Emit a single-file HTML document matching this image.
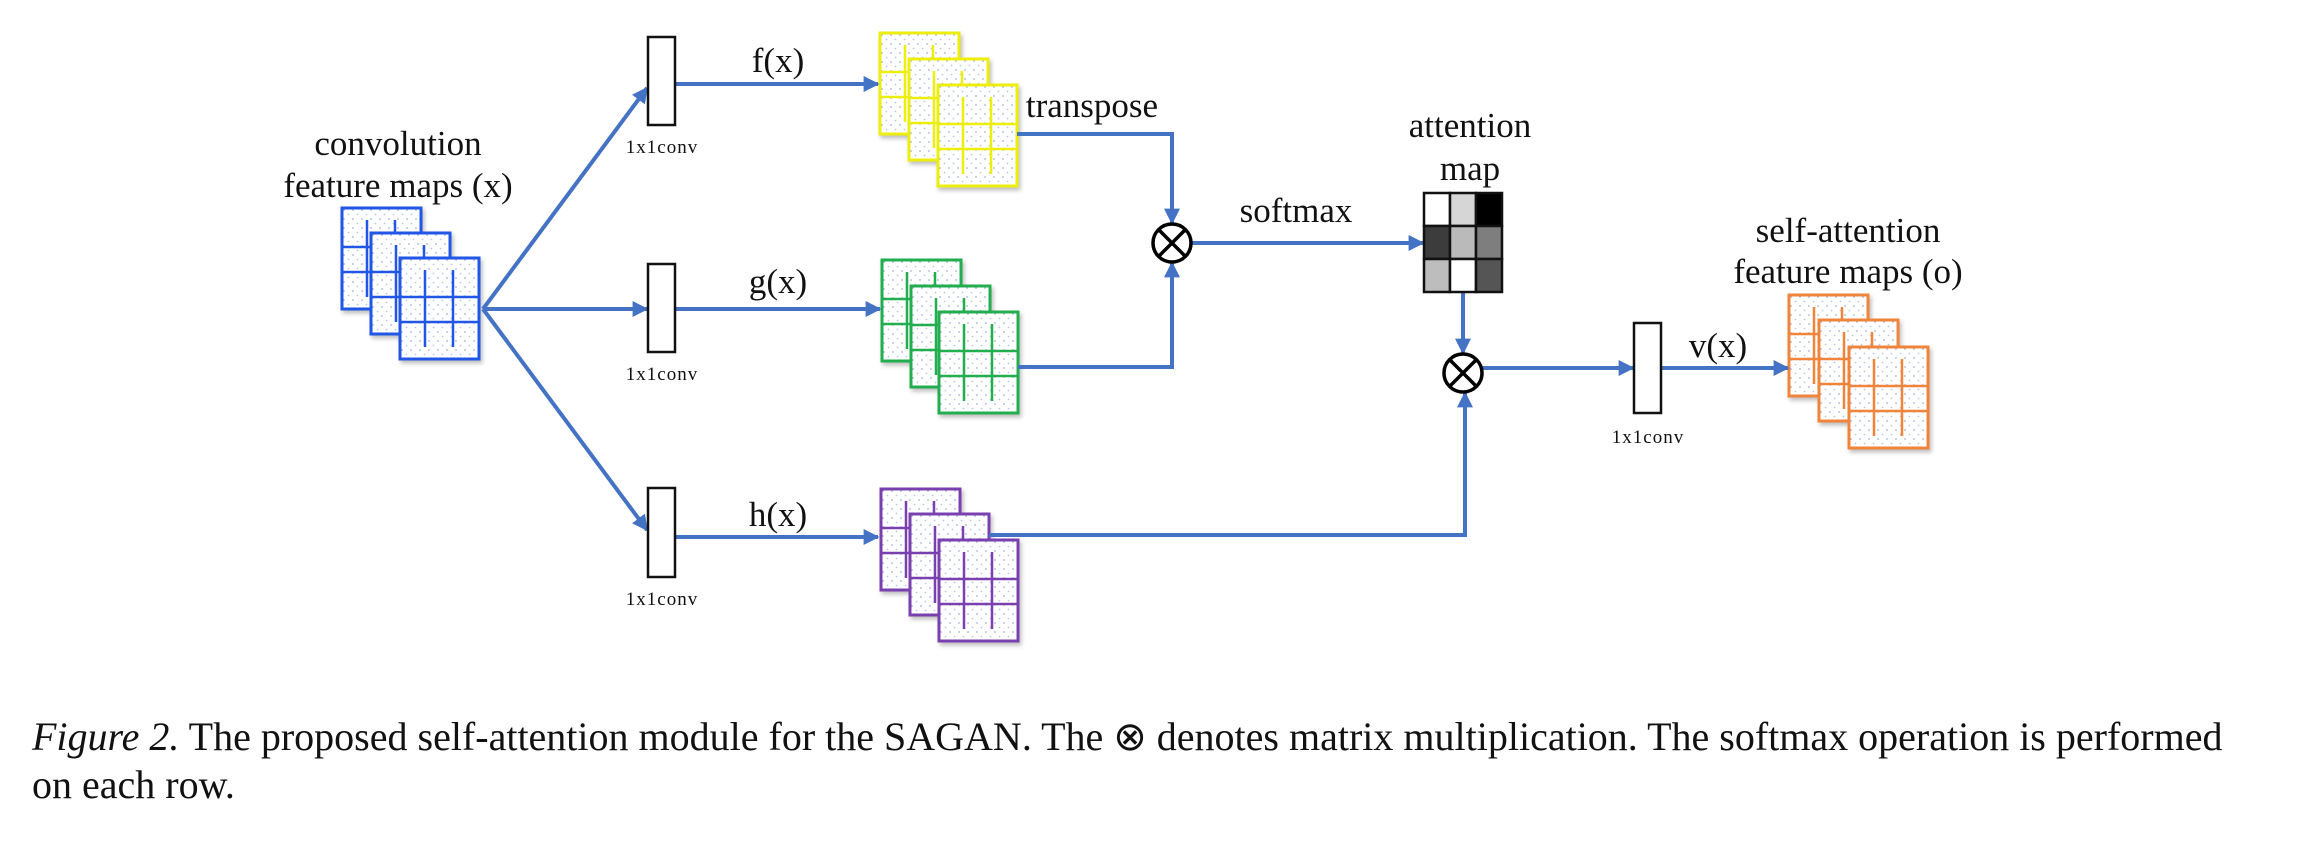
<!DOCTYPE html>
<html><head><meta charset="utf-8">
<style>
html,body{margin:0;padding:0;background:#fff;}
svg{display:block;}
text{font-family:"Liberation Serif",serif;fill:#111;}
</style></head>
<body>
<svg width="2322" height="868" viewBox="0 0 2322 868" xmlns="http://www.w3.org/2000/svg">
<defs>
<pattern id="dots" width="9" height="9" patternUnits="userSpaceOnUse">
<rect width="9" height="9" fill="#fff"/>
<circle cx="2" cy="2" r="0.9" fill="#9fb4e0"/>
<circle cx="6.5" cy="6.5" r="0.9" fill="#b8c8ea"/>
</pattern>
<marker id="ah" viewBox="0 0 10 10" refX="9" refY="5" markerWidth="4" markerHeight="4" orient="auto" markerUnits="strokeWidth">
<path d="M0,0 L10,5 L0,10 z" fill="#4472C4"/>
</marker>
<filter id="sh" x="-20%" y="-20%" width="150%" height="150%">
<feDropShadow dx="2" dy="3" stdDeviation="2" flood-color="#000" flood-opacity="0.25"/>
</filter>
<g id="sq">
<rect x="0" y="0" width="79" height="101" fill="url(#dots)" stroke="currentColor" stroke-width="3"/>
<line x1="0" y1="39" x2="79" y2="39" stroke="currentColor" stroke-width="2.5"/>
<line x1="0" y1="64" x2="79" y2="64" stroke="currentColor" stroke-width="2.5"/>
<line x1="25" y1="12" x2="25" y2="89" stroke="currentColor" stroke-width="2.5"/>
<line x1="53" y1="12" x2="53" y2="89" stroke="currentColor" stroke-width="2.5"/>
</g>
</defs>

<!-- stacks -->
<g style="color:#2456e6" filter="url(#sh)">
<use href="#sq" x="342" y="208"/><use href="#sq" x="371" y="233"/><use href="#sq" x="400" y="258"/>
</g>
<g style="color:#eeee10" filter="url(#sh)">
<use href="#sq" x="880" y="33"/><use href="#sq" x="909" y="59"/><use href="#sq" x="938" y="85"/>
</g>
<g style="color:#22ad50" filter="url(#sh)">
<use href="#sq" x="882" y="260"/><use href="#sq" x="911" y="286"/><use href="#sq" x="939" y="312"/>
</g>
<g style="color:#7a40b0" filter="url(#sh)">
<use href="#sq" x="881" y="489"/><use href="#sq" x="910" y="514"/><use href="#sq" x="939" y="540"/>
</g>
<g style="color:#f0843a" filter="url(#sh)">
<use href="#sq" x="1789" y="295"/><use href="#sq" x="1819" y="320"/><use href="#sq" x="1849" y="347"/>
</g>

<!-- connectors -->
<g stroke="#4472C4" stroke-width="4" fill="none">
<line x1="483" y1="309" x2="647" y2="88" marker-end="url(#ah)"/>
<line x1="483" y1="309" x2="647" y2="309" marker-end="url(#ah)"/>
<line x1="483" y1="309" x2="647" y2="530" marker-end="url(#ah)"/>
<line x1="675" y1="84" x2="878" y2="84" marker-end="url(#ah)"/>
<line x1="675" y1="309" x2="880" y2="309" marker-end="url(#ah)"/>
<line x1="675" y1="537" x2="878" y2="537" marker-end="url(#ah)"/>
<polyline points="1017,134 1172,134 1172,223" marker-end="url(#ah)"/>
<polyline points="1018,367 1172,367 1172,263" marker-end="url(#ah)"/>
<line x1="1191" y1="243" x2="1423" y2="243" marker-end="url(#ah)"/>
<line x1="1463" y1="292" x2="1463" y2="353" marker-end="url(#ah)"/>
<polyline points="989,535 1465,535 1465,393" marker-end="url(#ah)"/>
<line x1="1482" y1="368" x2="1633" y2="368" marker-end="url(#ah)"/>
<line x1="1661" y1="368" x2="1788" y2="368" marker-end="url(#ah)"/>
</g>

<!-- conv boxes -->
<g fill="#fff" stroke="#111" stroke-width="2.5">
<rect x="648" y="37" width="27" height="88"/>
<rect x="648" y="264" width="27" height="88"/>
<rect x="648" y="488" width="27" height="89"/>
<rect x="1634" y="323" width="27" height="90"/>
</g>

<!-- otimes -->
<g stroke="#000" stroke-width="3.5" fill="#fff">
<circle cx="1172" cy="243" r="19"/>
<line x1="1158.5" y1="229.5" x2="1185.5" y2="256.5"/>
<line x1="1185.5" y1="229.5" x2="1158.5" y2="256.5"/>
<circle cx="1463" cy="373" r="19"/>
<line x1="1449.5" y1="359.5" x2="1476.5" y2="386.5"/>
<line x1="1476.5" y1="359.5" x2="1449.5" y2="386.5"/>
</g>

<!-- attention map -->
<g stroke="#111" stroke-width="2.5">
<rect x="1424" y="193" width="26" height="33" fill="#fff"/>
<rect x="1450" y="193" width="26" height="33" fill="#d6d6d6"/>
<rect x="1476" y="193" width="26" height="33" fill="#000"/>
<rect x="1424" y="226" width="26" height="33" fill="#3c3c3c"/>
<rect x="1450" y="226" width="26" height="33" fill="#bababa"/>
<rect x="1476" y="226" width="26" height="33" fill="#7e7e7e"/>
<rect x="1424" y="259" width="26" height="33" fill="#bdbdbd"/>
<rect x="1450" y="259" width="26" height="33" fill="#fff"/>
<rect x="1476" y="259" width="26" height="33" fill="#555"/>
</g>

<!-- labels -->
<g font-size="35" text-anchor="middle">
<text x="398" y="155">convolution</text>
<text x="398" y="197">feature maps (x)</text>
<text x="778" y="72">f(x)</text>
<text x="778" y="293">g(x)</text>
<text x="778" y="526">h(x)</text>
<text x="1092" y="117">transpose</text>
<text x="1296" y="222">softmax</text>
<text x="1470" y="137">attention</text>
<text x="1470" y="180">map</text>
<text x="1848" y="242">self-attention</text>
<text x="1848" y="283">feature maps (o)</text>
<text x="1718" y="357">v(x)</text>
</g>
<g font-size="19" text-anchor="middle" letter-spacing="1">
<text x="662" y="153">1x1conv</text>
<text x="662" y="380">1x1conv</text>
<text x="662" y="605">1x1conv</text>
<text x="1648" y="443">1x1conv</text>
</g>

<!-- caption -->
<text x="32" y="750" font-size="40"><tspan font-style="italic">Figure 2.</tspan> The proposed self-attention module for the SAGAN. The ⊗ denotes matrix multiplication. The softmax operation is performed</text>
<text x="32" y="798" font-size="40">on each row.</text>
</svg>
</body></html>
